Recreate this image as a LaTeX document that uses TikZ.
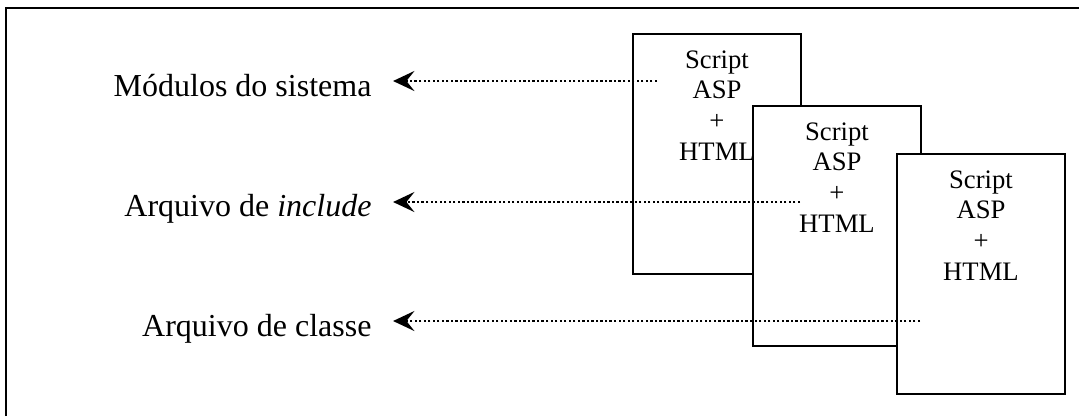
\documentclass[tikz,border=0pt]{standalone}
\usepackage{fontspec}
\setmainfont{Liberation Serif}
\usetikzlibrary{arrows.meta,calc}

\newcommand{\pagetext}{\begin{tabular}[t]{@{}c@{}}Script\\ASP\\+\\HTML\end{tabular}}

\begin{document}
\begin{tikzpicture}[x=0.375pt,y=-0.375pt,
  frame/.style={line width=0.8pt},
  doc/.style={draw, fill=white, line width=0.75pt, inner sep=0pt,
    minimum width=63pt, minimum height=90pt, anchor=north west},
  doctext/.style={anchor=base, inner sep=0pt,
    font=\fontsize{10pt}{11.5pt}\selectfont},
  lbl/.style={anchor=base east, inner sep=0pt,
    font=\fontsize{12pt}{14pt}\selectfont},
  ptr/.style={line width=0.85pt, dash pattern=on 0.85pt off 0.85pt,
    -{Stealth[length=8pt,width=7.5pt,inset=3pt]}, shorten >=7.9pt}
]
\useasboundingbox (0,0) rectangle (1079,416);

% outer frame (left and top edges)
\draw[frame] (6,416) -- (6,8) -- (1079,8);

% stacked script pages
\node[doc] (b1) at (632,33) {};
\node[doctext] (t1) at ($(b1.north)+(0,35)$) {\pagetext};
\node[doc] (b2) at (752,105) {};
\node[doctext] (t2) at ($(b2.north)+(0,35)$) {\pagetext};
\node[doc] (b3) at (896,153) {};
\node[doctext] (t3) at ($(b3.north)+(0,35)$) {\pagetext};

% labels
\node[lbl] (l1) at (372,96) {Módulos do sistema};
\node[lbl] (l2) at (372,216) {Arquivo de \textit{include}};
\node[lbl] (l3) at (372,336) {Arquivo de classe};

% dotted pointers
\coordinate (s1) at (657,81);
\coordinate (s2) at (800,202);
\coordinate (s3) at (920,321);
\draw[ptr] (s1) -- (l1.east |- s1);
\draw[ptr] (s2) -- (l2.east |- s2);
\draw[ptr] (s3) -- (l3.east |- s3);
\end{tikzpicture}
\end{document}
